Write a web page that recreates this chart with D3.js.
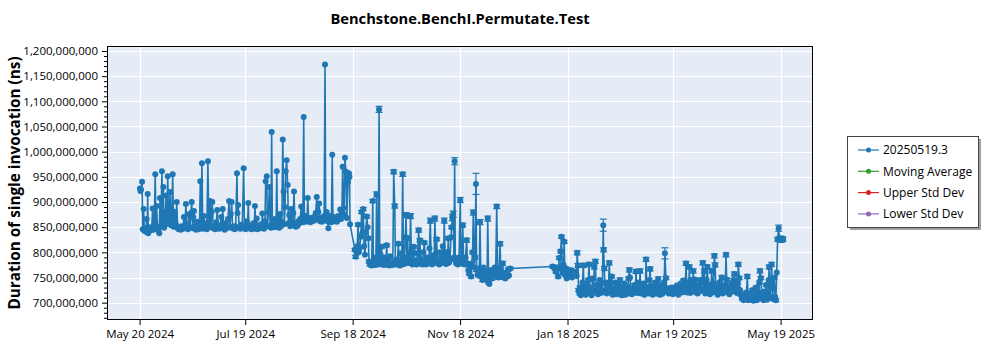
<!DOCTYPE html>
<html><head><meta charset="utf-8">
<script src="https://cdn.jsdelivr.net/npm/d3@7"></script>
<style>body{margin:0;background:#fff;} svg{display:block;font-family:"Open Sans","Noto Sans",sans-serif;}</style>
</head><body><svg id="c" width="1000" height="350"></svg>
<script>
const chartTitle = "Benchstone.BenchI.Permutate.Test";
const yAxisTitle = "Duration of single invocation (ns)";
const legendLabels = ["20250519.3", "Moving Average", "Upper Std Dev", "Lower Std Dev"];
const legendColors = ["#1f77b4", "#2ca02c", "#d62728", "#9467bd"];
const startDate = "2024-05-20";
const xTickLabels = ["May 20 2024", "Jul 19 2024", "Sep 18 2024", "Nov 18 2024", "Jan 18 2025", "Mar 19 2025", "May 19 2025"];
const yTickValues = [700e6, 750e6, 800e6, 850e6, 900e6, 950e6, 1000e6, 1050e6, 1100e6, 1150e6, 1200e6];

// [days since startDate, duration (millions of ns), error half-width (millions of ns)]
const runsSummer2024 = [
[0.2,927],[0.5,922],[0.8,925],[1.4,940],[1.8,846],[2.3,886],[2.7,843],[3.2,848],[3.6,841],[4.0,866],[4.3,845],[4.6,916],[4.9,838],[5.4,846],[5.9,850],[6.4,844],[6.9,847],[7.4,887],[7.8,845],[8.3,849],[8.9,955],[9.3,851],[9.7,892],[10.2,846],[10.7,843],[11.2,838],[11.6,908],[12.1,852],[12.7,961],[13.1,857],[13.5,930],[13.9,849],[14.3,880],[14.7,855],[15.0,913],[15.5,862],[16.0,951],[16.4,858],[16.9,866],[17.3,920],[17.8,854],[18.3,872],[18.8,955],[19.3,851],[19.7,862],[20.1,880],[20.6,856],[21.1,900],[21.6,848],[22.2,846],[22.8,850],[23.4,845],[24.0,852],[24.6,847],[25.2,870],[25.7,849],[26.3,896],[26.8,852],[27.4,846],[28.0,875],[28.6,850],[29.1,878],[29.6,900],[30.1,848],[30.5,870],[30.9,882],[31.4,851],[32.0,845],[32.6,861],[33.1,849],[33.6,846],[34.0,852],[34.5,941],[34.9,850],[35.4,977],[35.9,847],[36.5,872],[37.0,849],[37.6,858],[38.2,846],[38.8,981],[39.3,850],[39.6,864],[40.0,902],[40.5,853],[40.9,880],[41.3,900],[41.8,848],[42.4,851],[43.0,846],[43.6,860],[44.1,884],[44.6,850],[45.2,847],[45.8,853],[46.4,870],[46.8,849],[47.2,886],[47.7,852],[48.3,845],[48.9,858],[49.5,848],[50.2,866],[50.8,902],[51.3,850],[51.8,876],[52.3,900],[52.8,848],[53.4,852],[54.0,846],[54.6,851],[55.3,957],[55.6,878],[56.0,894],[56.5,849],[57.1,847],[57.7,855],[58.3,848],[59.1,967],[59.6,851],[60.2,846],[60.8,862],[61.3,850],[61.7,898],[62.2,848],[62.8,853],[63.4,846],[64.0,850],[64.6,858],[65.1,847],[65.5,892],[66.0,850],[66.5,867],[67.0,846],[67.6,852],[68.2,848],[68.8,856],[69.3,849],[69.7,877],[70.2,851],[70.7,847],[71.2,862],[71.6,941],[72.2,951],[72.6,852],[73.2,880],[73.7,930],[74.1,853],[74.6,849],[75.0,1039],[75.4,852],[76.0,858],[76.5,850],[77.0,866],[77.5,851],[77.9,961],[78.3,853],[78.8,870],[79.3,849],[79.8,876],[80.3,852],[80.8,860],[81.3,1024],[81.8,921],[82.2,856],[82.6,890],[83.0,961],[83.5,983],[84.1,934],[84.5,858],[85.0,874],[85.5,852],[86.0,886],[86.4,860],[86.9,855],[87.3,878],[87.7,921],[88.2,856],[88.7,851],[89.2,858],[89.7,853],[90.2,862],[90.7,858],[91.2,866],[91.8,891],[92.2,863],[92.7,860],[93.2,1069],[93.6,865],[94.1,872],[94.6,861],[95.1,866],[95.5,908],[96.0,863],[96.5,868],[97.0,860],[97.6,866],[98.2,862],[98.8,870],[99.4,864],[100.0,878],[100.6,910],[101.0,866],[101.5,880],[102.0,897],[102.5,862],[103.0,868],[103.6,861],[104.2,866],[104.8,872],[105.3,1173],[105.7,865],[106.2,880],[106.7,862],[107.2,848],[107.7,866],[108.3,872],[108.9,860],[109.4,994],[109.8,864],[110.3,870],[110.9,862],[111.5,866],[112.1,861],[112.7,872],[113.3,866],[113.9,885],[114.4,866],[114.9,880],[115.3,970],[115.8,888],[116.2,875],[116.6,988],[117.2,960],[117.7,868],[118.3,939],[118.6,947],[118.9,957],[119.2,950],[119.5,856]
];
const runsAutumn2024 = [
[122.3,805,3],[122.7,791,3],[123.2,800],[123.6,812],[124.1,855,3],[124.5,800],[125.0,808],[125.6,831,3],[126.1,880,3],[126.5,838],[127.0,886,3],[127.5,812],[128.0,795],[128.5,840],[129.0,871,3],[129.5,850],[129.9,828,3],[130.3,782,3],[130.8,776,3],[131.3,780],[131.8,774,3],[132.4,902,3],[132.8,778,3],[133.3,785],[133.8,775,3],[134.2,790],[134.6,915,5],[135.0,780,3],[135.5,776],[136.0,1084,6],[136.4,779,3],[136.9,795],[137.4,811,3],[137.8,776,3],[138.3,782],[138.8,775,3],[139.3,790],[139.8,778,3],[140.3,814,3],[140.8,776,3],[141.3,783],[141.8,774,3],[142.3,792],[142.8,777,3],[143.3,780],[143.8,775,3],[144.3,960,4],[144.9,892,4],[145.3,779,3],[145.8,786],[146.4,776,3],[146.9,817,3],[147.4,780],[147.9,774,3],[148.4,798],[148.9,777,3],[149.4,955,4],[149.9,782,3],[150.4,777],[150.9,830,3],[151.3,874,5],[151.8,790],[152.2,828,3],[152.7,779,3],[153.3,785],[153.9,872,5],[154.4,781,3],[154.9,776],[155.3,800,3],[155.8,811,3],[156.3,778],[156.8,784,3],[157.3,776],[157.9,798,3],[158.5,844,4],[158.9,790],[159.2,824,3],[159.7,778,3],[160.2,783],[160.7,776,3],[161.2,800],[161.7,819,3],[162.2,780,3],[162.7,776],[163.2,790,3],[163.7,778],[164.2,786,3],[164.6,808],[165.1,863,5],[165.6,780,3],[166.1,776],[166.6,794,3],[167.2,781],[167.7,867,5],[168.2,790,3],[168.7,826,3],[169.2,778],[169.7,784,3],[170.2,776],[170.7,800,3],[171.2,779],[171.7,786,3],[172.2,812],[172.6,782,3],[173.0,863,5],[173.5,784],[174.0,777,3],[174.5,800],[175.0,790,3],[175.3,828,3],[175.8,780],[176.3,786,3],[176.8,830],[177.2,850,3],[177.6,869,6],[178.1,876,6],[178.5,790],[178.9,981,7],[179.3,785,3],[179.8,778],[180.3,782,3],[180.8,776],[181.4,790,3],[182.1,904,5],[182.5,784],[183.0,778,3],[183.5,854,4],[184.0,782],[184.6,776,3],[185.1,790],[185.7,824,4],[186.2,778,3],[186.7,765],[187.2,758,3],[187.7,770],[188.2,752,3],[188.7,778],[189.1,800,3],[189.5,879,5],[190.0,770],[190.5,790,3],[191.0,936,21],[191.4,765,3],[191.9,755],[192.4,768,3],[192.9,760],[193.3,860,5],[193.8,752,3],[194.3,765],[194.8,745,3],[195.3,770],[195.8,758,3],[196.3,748],[196.8,762,3],[197.3,745],[197.7,867,5],[198.2,740,3],[198.6,737],[199.1,755,3],[199.6,765],[200.1,748,3],[200.6,760],[201.1,752,3],[201.6,770],[202.2,758,3],[202.8,891,4],[203.3,762],[203.8,750,3],[204.2,768],[204.7,817,4],[205.2,752],[205.7,760,3],[206.2,778,4],[206.7,750],[207.2,756,3],[207.7,748],[208.3,760,3],[208.8,752],[209.3,766,3],[209.8,754],[210.4,768,3]
];
const runs2025 = [
[234.6,772,3],[235.5,768],[236.4,762,3],[237.0,770],[237.7,752,3],[238.3,789,3],[238.7,770],[239.1,802,3],[239.6,831,3],[240.0,765],[240.4,760,3],[240.8,775],[241.1,821,3],[241.5,755],[242.0,768,3],[242.5,748],[243.2,760,3],[244.0,752],[244.8,765,3],[245.6,750],[246.3,758,3],[246.9,755],[247.6,762,3],[248.2,753],[248.5,799,4],[248.9,774,4],[249.3,725,3],[249.7,718],[250.1,730,3],[250.6,715],[251.0,722,3],[251.5,740],[252.0,774,4],[252.4,720],[252.9,728,3],[253.4,716],[253.9,735,3],[254.4,719],[254.8,745,3],[255.2,776,4],[255.7,722],[256.2,730,3],[256.7,715],[257.2,748,3],[257.7,725],[258.2,771,4],[258.8,782,4],[259.3,720],[259.8,735,3],[260.3,717],[260.8,726,3],[261.3,745],[261.8,719,3],[262.3,738],[262.8,722,3],[263.3,854,12],[263.5,805,4],[263.9,768,4],[264.3,725],[264.8,740,3],[265.3,718],[265.8,730,3],[266.2,722],[266.7,779,4],[267.2,735],[267.6,720,3],[268.1,752,3],[268.6,716],[269.1,728,3],[269.6,721],[270.1,740,3],[270.6,717],[271.1,726,3],[271.6,719],[272.2,733,3],[272.8,745,4],[273.3,720],[273.8,715,3],[274.3,728],[274.8,722,3],[275.3,738],[275.8,716,3],[276.3,725],[276.8,719,3],[277.3,732],[277.7,748,3],[278.1,765,4],[278.5,750],[279.0,722,3],[279.5,717],[280.0,728,3],[280.5,720],[281.0,735,3],[281.5,724],[281.9,762,4],[282.4,719],[282.9,726,3],[283.4,740],[283.8,722,3],[284.2,763,4],[284.7,718],[285.2,730,3],[285.7,721],[286.2,738,3],[286.7,716],[287.2,725,3],[287.6,786,4],[288.1,722],[288.6,730,3],[289.1,718],[289.5,745,3],[289.9,767,4],[290.4,720],[290.9,733,3],[291.4,716],[291.9,726,3],[292.4,722],[292.9,740,3],[293.4,718],[293.9,729,3],[294.5,747,4],[295.0,721],[295.5,716,3],[296.0,735],[296.5,723,3],[297.0,718],[297.5,730,3],[297.9,740],[298.3,798,11],[298.9,749,3],[299.4,722],[299.9,728,3],[300.4,718],[301.0,725,3],[301.6,720],[302.2,730,3],[302.8,717],[303.4,724,3],[304.0,719],[304.5,728,3],[305.0,734],[305.5,721,3],[306.0,716],[306.6,726,3],[307.2,738],[307.8,720,3],[308.4,729],[308.9,744,3],[309.4,722],[309.9,735,3],[310.3,778,4],[310.8,720],[311.3,740,3],[311.8,725],[312.2,771,4],[312.7,719],[313.2,745,3],[313.7,722],[314.0,735,3],[314.4,763,4],[314.9,730],[315.4,746,3],[315.9,720],[316.4,735,3],[316.9,718],[317.4,728,3],[317.9,722],[318.4,745,3],[318.9,725],[319.3,740,3],[319.8,779,4],[320.3,724],[320.7,763,4],[321.2,718],[321.7,730,3],[322.0,745],[322.4,771,4],[322.9,722],[323.4,735,3],[323.9,717],[324.4,728,3],[324.9,763,4],[325.4,720],[325.9,738,3],[326.4,793,4],[326.8,775,4],[327.3,722],[327.8,730,3],[328.3,716],[328.8,726,3],[329.3,740],[329.8,721,3],[330.2,735],[330.6,750,4],[331.1,718],[331.6,728,3],[332.1,722],[332.6,735,3],[333.0,795,4],[333.4,746,3],[333.9,720],[334.4,730,3],[334.9,717],[335.4,726,3],[335.9,738],[336.4,722,3],[336.9,730],[337.3,745,3],[337.7,757,4],[338.2,722],[338.7,733,3],[339.2,719],[339.6,740,3],[340.0,776,4],[340.5,749,3],[341.0,725],[341.5,716,3],[342.0,708],[342.5,712,3],[343.0,705],[343.5,715,3],[344.0,708],[344.6,720,3],[345.1,752,4],[345.6,705],[346.1,712,3],[346.6,706],[347.1,718,3],[347.6,708],[348.1,725,3],[348.6,704],[349.1,714,3],[349.6,708],[350.1,730,3],[350.6,705],[351.1,712,3],[351.6,720],[352.0,740,3],[352.3,763,4],[352.8,749,3],[353.3,708],[353.8,715,3],[354.3,705],[354.8,722,3],[355.3,710],[355.8,735,3],[356.3,706],[356.8,718,3],[357.2,745],[357.5,771,4],[358.0,712],[358.5,740,3],[358.9,776,4],[359.4,708],[359.9,730,3],[360.4,750,3],[360.9,712],[361.3,705,3],[361.8,760],[362.3,826,4],[362.9,848,6],[363.4,826,4],[363.9,828,4],[364.5,824,4],[365.1,827,4],[365.3,826,4]
];
const xDomainDays = [-18.5, 382.4];
const yDomain = [665.6e6, 1209.9e6];

const svg = d3.select("#c");
const M = {left: 107, right: 813, top: 46, bottom: 320};
const base = d3.utcParse("%Y-%m-%d")(startDate);
const toDate = d => new Date(base.getTime() + d * 864e5);
const runs = runsSummer2024.concat(runsAutumn2024, runs2025).map(r => ({date: toDate(r[0]), v: r[1] * 1e6, e: (r[2] || 0) * 1e6}));

const x = d3.scaleUtc().domain(xDomainDays.map(toDate)).range([M.left, M.right]);
const y = d3.scaleLinear().domain(yDomain).range([M.bottom, M.top]);
const parseTick = d3.utcParse("%b %d %Y");
const xTicks = xTickLabels.map(parseTick);

// plot background
svg.append("rect").attr("x", M.left).attr("y", M.top).attr("width", M.right - M.left).attr("height", M.bottom - M.top).attr("fill", "#e5ecf6");

// grid
const grid = svg.append("g").attr("stroke", "#fff").attr("stroke-width", 1.2);
grid.selectAll(".gx").data(xTicks).join("line").attr("x1", d => Math.round(x(d)) + 0.5).attr("x2", d => Math.round(x(d)) + 0.5).attr("y1", M.top).attr("y2", M.bottom);
grid.selectAll(".gy").data(yTickValues).join("line").attr("y1", d => Math.round(y(d)) + 0.5).attr("y2", d => Math.round(y(d)) + 0.5).attr("x1", M.left).attr("x2", M.right);

svg.append("clipPath").attr("id", "clip").append("rect").attr("x", M.left).attr("y", M.top).attr("width", M.right - M.left).attr("height", M.bottom - M.top);
const plot = svg.append("g").attr("clip-path", "url(#clip)");
const blue = legendColors[0];

plot.append("path").datum(runs).attr("fill", "none").attr("stroke", blue).attr("stroke-width", 1.6).attr("stroke-linejoin", "round")
  .attr("d", d3.line().x(d => x(d.date)).y(d => y(d.v)));

const eb = plot.append("g").attr("stroke", blue).attr("stroke-width", 1.2);
const withErr = runs.filter(d => d.e > 0);
eb.selectAll(".v").data(withErr).join("line").attr("x1", d => x(d.date)).attr("x2", d => x(d.date)).attr("y1", d => y(d.v - d.e)).attr("y2", d => y(d.v + d.e));
eb.selectAll(".t").data(withErr).join("line").attr("x1", d => x(d.date) - 3.5).attr("x2", d => x(d.date) + 3.5).attr("y1", d => y(d.v + d.e)).attr("y2", d => y(d.v + d.e));
eb.selectAll(".b").data(withErr).join("line").attr("x1", d => x(d.date) - 3.5).attr("x2", d => x(d.date) + 3.5).attr("y1", d => y(d.v - d.e)).attr("y2", d => y(d.v - d.e));

plot.append("g").selectAll("circle").data(runs).join("circle").attr("cx", d => x(d.date)).attr("cy", d => y(d.v)).attr("r", 3).attr("fill", blue);

// axes
const fontSize = "11.5px";
const xAxis = d3.axisBottom(x).tickValues(xTicks).tickFormat(d3.utcFormat("%b %d %Y")).tickSize(5).tickSizeOuter(0);
const gx = svg.append("g").attr("transform", `translate(0,${M.bottom})`).call(xAxis);
gx.select(".domain").remove();
gx.selectAll("text").attr("font-size", fontSize).attr("font-family", "'Open Sans','Noto Sans',sans-serif").attr("fill", "#000").attr("dy", "0.85em");
gx.selectAll("line").attr("stroke", "#000");

const yMinor = d3.range(670e6, 1210e6, 10e6).filter(v => v % 50e6 !== 0);
const gyMinor = svg.append("g").attr("transform", `translate(${M.left},0)`).call(d3.axisLeft(y).tickValues(yMinor).tickSize(3).tickFormat(""));
gyMinor.select(".domain").remove();
gyMinor.selectAll("line").attr("stroke", "#000");
const gy = svg.append("g").attr("transform", `translate(${M.left},0)`).call(d3.axisLeft(y).tickValues(yTickValues).tickFormat(d3.format(",")).tickSize(5).tickPadding(4));
gy.select(".domain").remove();
gy.selectAll("text").attr("font-size", fontSize).attr("font-family", "'Open Sans','Noto Sans',sans-serif").attr("fill", "#000");
gy.selectAll("line").attr("stroke", "#000");

// border
svg.append("rect").attr("x", M.left + 0.5).attr("y", M.top + 0.5).attr("width", M.right - M.left - 1).attr("height", M.bottom - M.top - 1).attr("fill", "none").attr("stroke", "#000").attr("stroke-width", 1);

// titles
svg.append("text").attr("x", (M.left + M.right) / 2).attr("y", 24).attr("text-anchor", "middle").attr("font-weight", "bold").attr("font-size", "14.7px").text(chartTitle);
svg.append("text").attr("transform", `translate(20,${(M.top + M.bottom) / 2}) rotate(-90)`).attr("text-anchor", "middle").attr("font-weight", "bold").attr("font-size", "15.3px").text(yAxisTitle);

// legend
const lg = svg.append("g");
lg.append("rect").attr("x", 850).attr("y", 139).attr("width", 131).attr("height", 91).attr("fill", "#a0a0a0");
lg.append("rect").attr("x", 847.5).attr("y", 136.5).attr("width", 131).attr("height", 91).attr("fill", "#fff").attr("stroke", "#444");
const items = lg.selectAll(".it").data(legendLabels).join("g").attr("transform", (d, i) => `translate(0,${150 + i * 21.3})`);
items.append("line").attr("x1", 858).attr("x2", 879).attr("stroke", (d, i) => legendColors[i]).attr("stroke-width", 1.2);
items.append("circle").attr("cx", 868.5).attr("r", 2.5).attr("fill", (d, i) => legendColors[i]);
items.append("text").attr("x", 883).attr("dy", "0.35em").attr("font-size", "12px").text(d => d);
</script></body></html>
